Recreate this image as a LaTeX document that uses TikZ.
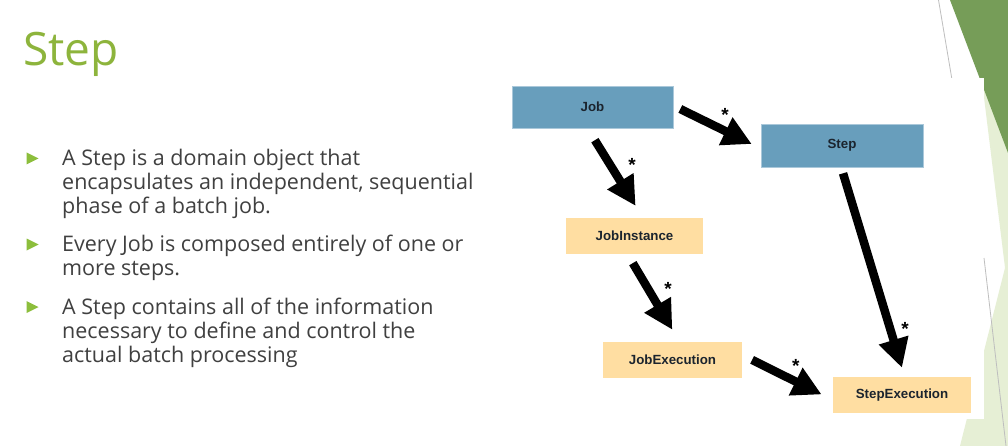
\documentclass[tikz,border=0pt]{standalone}
\usepackage{fontspec}
\setmainfont{Open Sans}
\newfontfamily\boxfont{Liberation Sans}
\usetikzlibrary{arrows.meta,calc}

\definecolor{titlegreen}{RGB}{141,180,60}
\definecolor{bulletgreen}{RGB}{140,190,60}
\definecolor{bodygrey}{RGB}{64,64,64}
\definecolor{facetdark}{RGB}{118,157,88}
\definecolor{facetlight}{RGB}{230,239,213}
\definecolor{facetline}{RGB}{190,190,190}
\definecolor{entityblue}{RGB}{104,158,188}
\definecolor{entityblueedge}{RGB}{170,200,218}
\definecolor{entityorange}{RGB}{255,222,162}
\definecolor{entitytext}{RGB}{27,36,46}

\begin{document}
\begin{tikzpicture}[x=1pt,y=-1pt,
  entity/.style={inner sep=0pt, text=entitytext,
    font=\boxfont\bfseries\fontsize{13.3}{16}\selectfont},
  jobentity/.style={entity, fill=entityblue, draw=entityblueedge, line width=0.6pt},
  runentity/.style={entity, fill=entityorange},
  bigarrow/.style={draw=black, line width=8.5pt,
    -{Triangle[length=29pt,width=29pt]}},
  multiplicity/.style={anchor=base, inner sep=0pt,
    font=\boxfont\bfseries\fontsize{19}{19}\selectfont},
  bullettext/.style={anchor=base west, inner sep=0pt, align=left, text=bodygrey,
    font=\fontsize{21.5}{24}\selectfont},
  bulletmark/.style={fill=bulletgreen}]

\useasboundingbox (0,0) rectangle (1008,446);
\fill[white] (0,0) rectangle (1008,446);

% theme facets on the right edge
\fill[facetlight] (972,0) -- (1008,0) -- (1008,292) -- cycle;
\fill[facetlight] (1008,256) -- (1008,446) -- (960,446) -- cycle;
\fill[facetdark] (950,0) -- (1008,0) -- (1008,153) -- cycle;
\draw[facetline, line width=0.8pt] (938.5,0) -- (951.7,78);
\fill[white] (0,78) rectangle (984,419);
\draw[facetline, line width=0.8pt] (984,258) -- (1006,446);

% title
\node[anchor=base west, inner sep=0pt, text=titlegreen,
      font=\fontsize{46}{54}\selectfont] (title) at (23,66) {Step};

% bullet list (each text node is placed by the baseline of its last line)
\fill[bulletmark] (26.5,152.5) -- (38.5,158.5) -- (26.5,164.5) -- cycle;
\fill[bulletmark] (26.5,238.5) -- (38.5,244.5) -- (26.5,250.5) -- cycle;
\fill[bulletmark] (26.5,301) -- (38.5,307) -- (26.5,313) -- cycle;

\node[bullettext] (item1) at (62,213.5)
  {A Step is a domain object that\\encapsulates an independent, sequential\\phase of a batch job.};
\node[bullettext] (item2) at (62,275.5)
  {Every Job is composed entirely of one or\\more steps.};
\node[bullettext] (item3) at (62,362)
  {A Step contains all of the information\\necessary to define and control the\\actual batch processing};

% domain entities
\node[jobentity, minimum width=161pt, minimum height=42pt] (job) at (592.5,107) {Job};
\node[jobentity, minimum width=162pt, minimum height=43pt] (step) at (842,145.5) {Step};
\node[runentity, minimum width=137pt, minimum height=36pt] (jinst) at (634.5,236) {JobInstance};
\node[runentity, minimum width=139pt, minimum height=36pt] (jexec) at (672.5,360) {JobExecution};
\node[runentity, minimum width=138pt, minimum height=36pt] (sexec) at (902,395) {StepExecution};

% one-to-many associations
\draw[bigarrow, shorten <=7.8pt, shorten >=10pt]
  ($(job.east)+(0,-1.4)$) -- ($(step.west)+(0,2.9)$);
\draw[bigarrow, shorten <=14pt, shorten >=14pt]
  ($(job.south)+(-5,0)$) -- ($(jinst.north)+(8.5,0)$);
\draw[bigarrow, shorten <=10.4pt, shorten >=14pt]
  ($(jinst.south)+(-7,0)$) -- ($(jexec.north)+(7,0)$);
\draw[bigarrow, shorten <=6.3pt, shorten >=9.4pt]
  ($(step.south)+(-0.8,0)$) -- ($(sexec.north)+(2.7,0)$);
\draw[bigarrow, shorten <=11pt, shorten >=12.5pt]
  ($(jexec.east)+(0,-5)$) -- ($(sexec.west)+(0,5)$);

% multiplicity marks
\node[multiplicity] (m1) at (725,121.5) {*};
\node[multiplicity] (m2) at (632,171.5) {*};
\node[multiplicity] (m3) at (668,295.5) {*};
\node[multiplicity] (m4) at (905,335.5) {*};
\node[multiplicity] (m5) at (795.7,372.5) {*};

\end{tikzpicture}
\end{document}
